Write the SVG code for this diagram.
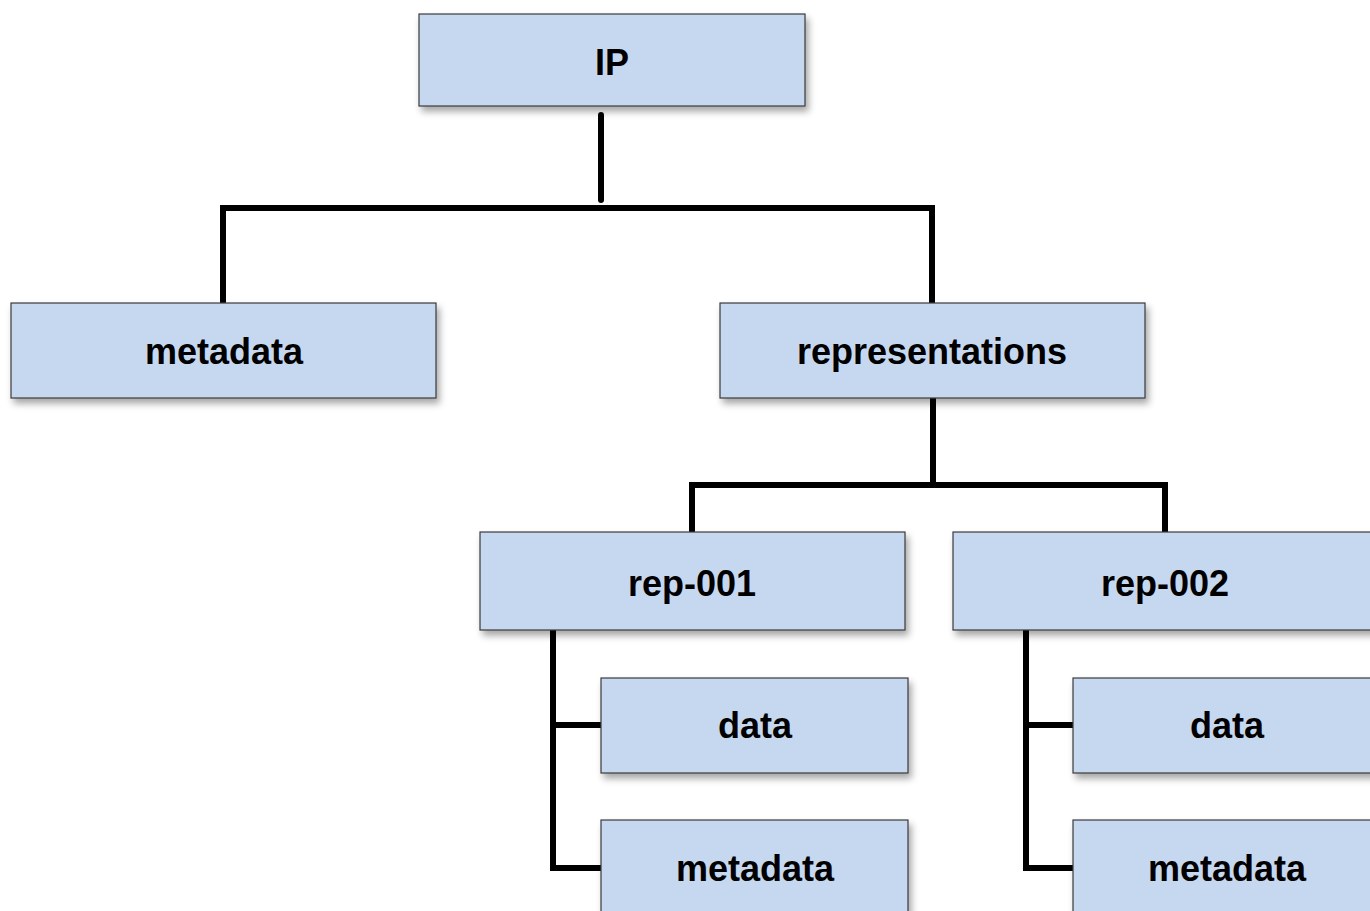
<svg xmlns="http://www.w3.org/2000/svg" width="1370" height="911" viewBox="0 0 1370 911">
<defs>
<filter id="sh" x="-10%" y="-20%" width="130%" height="150%">
<feDropShadow dx="3" dy="5" stdDeviation="3.5" flood-color="#000" flood-opacity="0.35"/>
</filter>
<style>
.box{fill:#c6d8ef;stroke:#3a3a3a;stroke-width:1.2;filter:url(#sh)}
.lbl{font-family:"Liberation Sans",Arial,sans-serif;font-weight:bold;font-size:36px;fill:#000;text-anchor:middle}
.con{fill:none;stroke:#000;stroke-width:6;stroke-linecap:round;stroke-linejoin:miter}
</style>
</defs>
<rect width="1370" height="911" fill="#fff"/>
<g id="connectors">
<path class="con" d="M601,115 V200"/>
<path class="con" d="M223,303 V208 H932 V303"/>
<path class="con" d="M933,399 V485"/>
<path class="con" d="M692,531 V485 H1165 V532"/>
<path class="con" d="M553,630 V868 H601"/>
<path class="con" d="M553,725 H601"/>
<path class="con" d="M1026,630 V868 H1073"/>
<path class="con" d="M1026,725 H1073"/>
</g>
<g id="ip"><rect class="box" x="419" y="14" width="386" height="92"/><text class="lbl" x="612" y="75">IP</text></g>
<g id="metadata"><rect class="box" x="11" y="303" width="425" height="95"/><text class="lbl" x="224" y="364">metadata</text></g>
<g id="representations"><rect class="box" x="720" y="303" width="425" height="95"/><text class="lbl" x="932" y="364">representations</text></g>
<g id="rep-001"><rect class="box" x="480" y="532" width="425" height="98"/><text class="lbl" x="692" y="596">rep-001</text></g>
<g id="rep-002"><rect class="box" x="953" y="532" width="425" height="98"/><text class="lbl" x="1165" y="596">rep-002</text></g>
<g id="rep-001-data"><rect class="box" x="601" y="678" width="307" height="95"/><text class="lbl" x="755" y="738">data</text></g>
<g id="rep-001-metadata"><rect class="box" x="601" y="820" width="307" height="100"/><text class="lbl" x="755" y="881">metadata</text></g>
<g id="rep-002-data"><rect class="box" x="1073" y="678" width="307" height="95"/><text class="lbl" x="1227" y="738">data</text></g>
<g id="rep-002-metadata"><rect class="box" x="1073" y="820" width="307" height="100"/><text class="lbl" x="1227" y="881">metadata</text></g>
</svg>
